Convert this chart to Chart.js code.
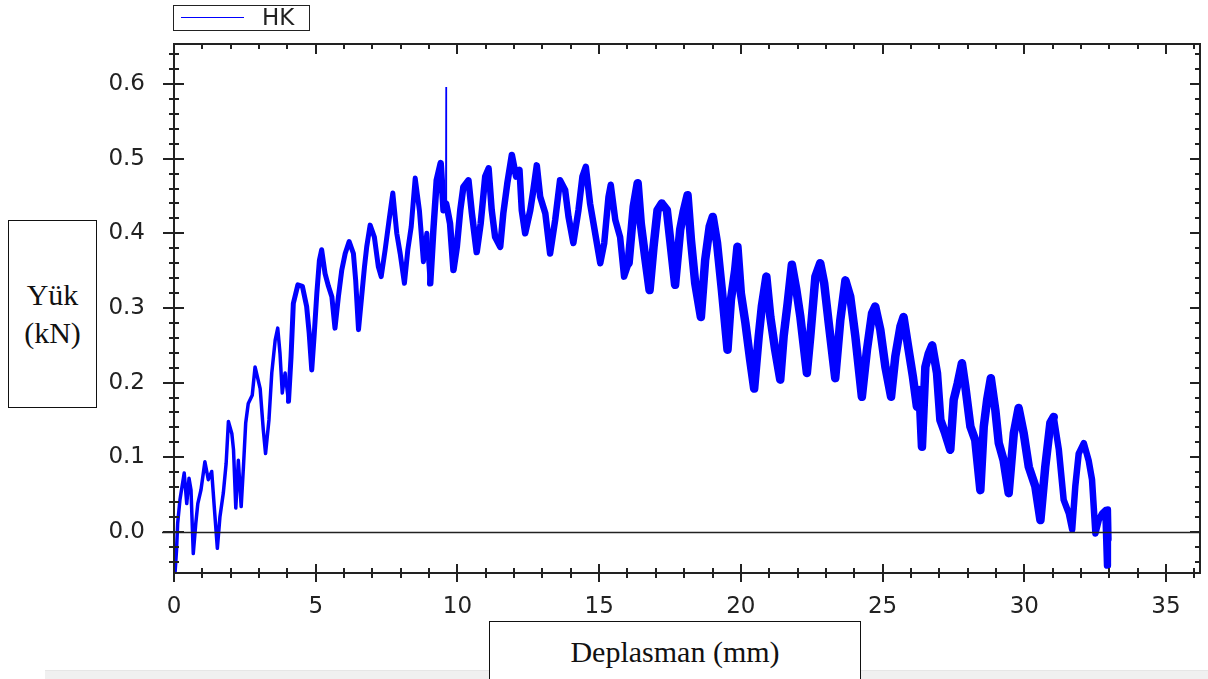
<!DOCTYPE html>
<html>
<head>
<meta charset="utf-8">
<script src="https://cdn.jsdelivr.net/npm/chart.js@4.4.1/dist/chart.umd.min.js"></script>
<style>
  body { margin: 0; background: #fff; }
  #wrap { position: relative; width: 1208px; height: 679px; overflow: hidden; }
  #band { position: absolute; left: 45px; top: 670px; width: 1163px; height: 9px; background: #f0f0f0; border-top: 1px solid #e6e6e6; }
  canvas { position: absolute; left: 0; top: 0; }
  .box { position: absolute; border: 1.5px solid #111; background: #fff; font-family: "Liberation Serif", "Times New Roman", serif; color: #111; text-align: center; }
  #legend { position: absolute; left: 173px; top: 5px; width: 135px; height: 24px; border: 1.5px solid #222; background: #fff; }
  #legend .ln { position: absolute; left: 7px; top: 11px; width: 63px; height: 0; border-top: 1.5px solid #0000ff; }
  #legend .tx { position: absolute; left: 88px; top: -2px; font: 23px "DejaVu Sans", sans-serif; color: #222; }
</style>
</head>
<body>
<div id="wrap">
  <div id="band"></div>
  <canvas id="chart" width="1208" height="679"></canvas>
  <div id="legend"><div class="ln"></div><div class="tx">HK</div></div>
  <div class="box" style="left:8px; top:220px; width:87px; height:186px; font-size:30px; line-height:38px;">
    <div style="padding-top:55px;">Yük<br>(kN)</div>
  </div>
  <div class="box" style="left:489px; top:621px; width:370px; height:70px; font-size:30px; line-height:30px;">
    <div style="padding-top:15px;">Deplasman (mm)</div>
  </div>
</div>
<script>
// values: displacement (mm) and load (kN)
var dispMm = [
  0.04, 0.09, 0.13, 0.21, 0.36, 0.45, 0.53, 0.60, 0.68, 0.77, 0.84, 0.95, 1.09, 1.21, 1.33, 1.42, 1.53, 1.62, 1.74, 1.84,
  1.92, 2.04, 2.10, 2.18, 2.27, 2.37, 2.45, 2.53, 2.62, 2.76, 2.86, 3.04, 3.15, 3.23, 3.35, 3.45, 3.57, 3.66, 3.74, 3.82,
  3.92, 4.04, 4.13, 4.21, 4.37, 4.53, 4.68, 4.77, 4.86, 4.95, 5.04, 5.13, 5.21, 5.33, 5.45, 5.57, 5.68, 5.80, 5.92, 6.04,
  6.18, 6.33, 6.41, 6.51, 6.62, 6.72, 6.80, 6.92, 7.07, 7.21, 7.31, 7.45, 7.59, 7.72, 7.86, 7.98, 8.13, 8.25, 8.37, 8.51,
  8.66, 8.80, 8.92, 9.04, 9.15, 9.27, 9.41, 9.51, 9.60, 9.65, 9.74, 9.86, 9.98, 10.10, 10.21, 10.39, 10.51, 10.68, 10.82, 10.98,
  11.10, 11.21, 11.33, 11.51, 11.62, 11.76, 11.92, 12.07, 12.19, 12.27, 12.39, 12.57, 12.68, 12.80, 12.92, 13.10, 13.27, 13.45, 13.62, 13.80,
  13.92, 14.09, 14.27, 14.41, 14.53, 14.68, 14.82, 15.04, 15.18, 15.33, 15.41, 15.57, 15.74, 15.88, 16.04, 16.22, 16.36, 16.47, 16.62, 16.78,
  16.92, 17.06, 17.21, 17.39, 17.51, 17.68, 17.86, 17.98, 18.12, 18.24, 18.39, 18.59, 18.74, 18.90, 19.01, 19.16, 19.33, 19.53, 19.65, 19.80,
  19.88, 20.00, 20.16, 20.33, 20.47, 20.63, 20.74, 20.90, 21.04, 21.21, 21.39, 21.51, 21.65, 21.80, 21.96, 22.10, 22.33, 22.45, 22.63, 22.80,
  22.94, 23.10, 23.33, 23.51, 23.69, 23.86, 24.04, 24.27, 24.45, 24.63, 24.74, 24.92, 25.10, 25.30, 25.45, 25.63, 25.74, 25.92, 26.07, 26.21,
  26.30, 26.39, 26.51, 26.63, 26.75, 26.92, 27.04, 27.21, 27.39, 27.51, 27.65, 27.80, 27.92, 28.10, 28.27, 28.45, 28.57, 28.69, 28.82, 28.98,
  29.10, 29.27, 29.45, 29.63, 29.80, 29.98, 30.16, 30.39, 30.57, 30.74, 30.92, 31.04, 31.22, 31.39, 31.57, 31.69, 31.80, 31.92, 32.10, 32.27,
  32.39, 32.51, 32.63, 32.75, 32.86, 32.92, 32.95, 32.97
];
var loadKN = [
  -0.053, -0.024, 0.012, 0.043, 0.079, 0.038, 0.072, 0.056, -0.029, 0.012, 0.038, 0.056, 0.094, 0.070, 0.081, 0.034, -0.022, 0.020, 0.052, 0.092,
  0.148, 0.132, 0.110, 0.032, 0.096, 0.034, 0.087, 0.146, 0.172, 0.183, 0.221, 0.192, 0.137, 0.105, 0.150, 0.213, 0.257, 0.273, 0.239, 0.186,
  0.213, 0.175, 0.235, 0.306, 0.331, 0.329, 0.302, 0.266, 0.217, 0.266, 0.320, 0.364, 0.378, 0.346, 0.329, 0.315, 0.273, 0.315, 0.351, 0.373,
  0.389, 0.373, 0.337, 0.271, 0.315, 0.355, 0.382, 0.411, 0.395, 0.355, 0.342, 0.378, 0.418, 0.454, 0.400, 0.373, 0.333, 0.378, 0.409, 0.474,
  0.430, 0.362, 0.400, 0.333, 0.404, 0.471, 0.494, 0.431, 0.440, 0.431, 0.413, 0.351, 0.382, 0.431, 0.462, 0.471, 0.427, 0.375, 0.413, 0.476,
  0.487, 0.431, 0.395, 0.382, 0.427, 0.467, 0.505, 0.476, 0.485, 0.431, 0.400, 0.431, 0.458, 0.491, 0.449, 0.427, 0.373, 0.418, 0.471, 0.458,
  0.422, 0.387, 0.431, 0.476, 0.489, 0.440, 0.409, 0.360, 0.387, 0.449, 0.465, 0.418, 0.395, 0.342, 0.360, 0.436, 0.467, 0.413, 0.369, 0.324,
  0.382, 0.431, 0.440, 0.431, 0.390, 0.331, 0.405, 0.429, 0.451, 0.391, 0.333, 0.288, 0.364, 0.409, 0.422, 0.387, 0.324, 0.244, 0.311, 0.351,
  0.382, 0.320, 0.280, 0.230, 0.192, 0.262, 0.302, 0.342, 0.288, 0.244, 0.204, 0.262, 0.306, 0.358, 0.324, 0.288, 0.213, 0.262, 0.342, 0.360,
  0.333, 0.280, 0.206, 0.284, 0.337, 0.315, 0.262, 0.181, 0.244, 0.293, 0.302, 0.271, 0.221, 0.181, 0.235, 0.275, 0.288, 0.244, 0.208, 0.168,
  0.190, 0.114, 0.221, 0.239, 0.250, 0.213, 0.150, 0.132, 0.110, 0.177, 0.199, 0.226, 0.195, 0.141, 0.123, 0.056, 0.141, 0.177, 0.206, 0.163,
  0.119, 0.096, 0.052, 0.132, 0.166, 0.132, 0.087, 0.061, 0.016, 0.087, 0.146, 0.154, 0.110, 0.043, 0.025, 0.003, 0.061, 0.105, 0.119, 0.096,
  0.070, -0.002, 0.016, 0.025, 0.029, -0.045, 0.030, -0.010
];
// the single thin spike near 9.6 mm
var spikeMm = [9.59, 9.60, 9.61];
var spikeKN = [0.440, 0.596, 0.440];

var xTicksMax = 36.2;
var yMin = -0.055, yMax = 0.6536;

function pts(xs, ys) {
  return xs.map(function (v, i) { return { x: v, y: ys[i] }; });
}

// the noisy trace reads as a band that widens as the test goes on
function bandWidth(ctx) {
  var x = ctx.p0.parsed.x;
  if (x < 4) return 3.5;
  if (x < 9) return 5;
  if (x < 16) return 6.5;
  if (x < 31) return 8.5;
  return 6.5;
}

var axisFont = { family: '"DejaVu Sans", sans-serif', size: 23 };

// frame, zero line and the in/out tick marks of the original plot
var framePlugin = {
  id: 'frame',
  afterDatasetsDraw: function (chart) {
    var ctx = chart.ctx, a = chart.chartArea, xs = chart.scales.x, ys = chart.scales.y;
    function seg(x1, y1, x2, y2) { ctx.beginPath(); ctx.moveTo(x1, y1); ctx.lineTo(x2, y2); ctx.stroke(); }
    ctx.save();
    ctx.strokeStyle = '#222';
    ctx.lineWidth = 1.5;
    var y0 = Math.round(ys.getPixelForValue(0)) + 0.5;
    seg(a.left - 12, y0, a.right, y0);
    ctx.lineWidth = 2;
    ctx.strokeRect(a.left, a.top, a.right - a.left, a.bottom - a.top);
    for (var v = 0; v <= 36; v++) {
      var px = Math.round(xs.getPixelForValue(v));
      var big = v % 5 === 0;
      seg(px, a.bottom - (big ? 9 : 5), px, a.bottom + (big ? 9 : 5));
      seg(px, a.top, px, a.top + (big ? 10 : 5));
    }
    for (var i = -2; i <= 32; i++) {
      var py = Math.round(ys.getPixelForValue(i * 0.02));
      var major = i % 5 === 0;
      seg(a.left - (major ? 11 : 5), py, a.left + (major ? 10 : 5), py);
      seg(a.right - (major ? 10 : 5), py, a.right, py);
    }
    ctx.restore();
  }
};

new Chart(document.getElementById('chart'), {
  type: 'line',
  data: {
    datasets: [{
      label: 'HK',
      data: pts(dispMm, loadKN),
      borderColor: '#0000ff',
      borderWidth: 4,
      borderJoinStyle: 'round',
      borderCapStyle: 'round',
      segment: { borderWidth: bandWidth },
      pointRadius: 0,
      tension: 0
    }, {
      label: 'spike',
      data: pts(spikeMm, spikeKN),
      borderColor: '#0000ff',
      borderWidth: 1.5,
      pointRadius: 0,
      tension: 0
    }]
  },
  options: {
    responsive: false,
    animation: false,
    layout: { padding: { left: 0, right: 8, top: 44, bottom: 0 } },
    plugins: { legend: { display: false }, tooltip: { enabled: false } },
    scales: {
      x: {
        type: 'linear', min: 0, max: xTicksMax,
        afterFit: function (s) { s.height = 106; },
        grid: { display: false, drawTicks: false },
        border: { display: false },
        ticks: {
          stepSize: 5, includeBounds: false, autoSkip: false, maxRotation: 0,
          padding: 20, color: '#222', font: axisFont,
          callback: function (v) { return String(v); }
        }
      },
      y: {
        min: yMin, max: yMax,
        afterFit: function (s) { s.width = 174; },
        grid: { display: false, drawTicks: false },
        border: { display: false },
        ticks: {
          stepSize: 0.1, includeBounds: false, autoSkip: false,
          padding: 29, color: '#222', font: axisFont,
          callback: function (v) { return (Math.abs(v) < 1e-9 ? 0 : v).toFixed(1); }
        }
      }
    }
  },
  plugins: [framePlugin]
});
</script>
</body>
</html>
